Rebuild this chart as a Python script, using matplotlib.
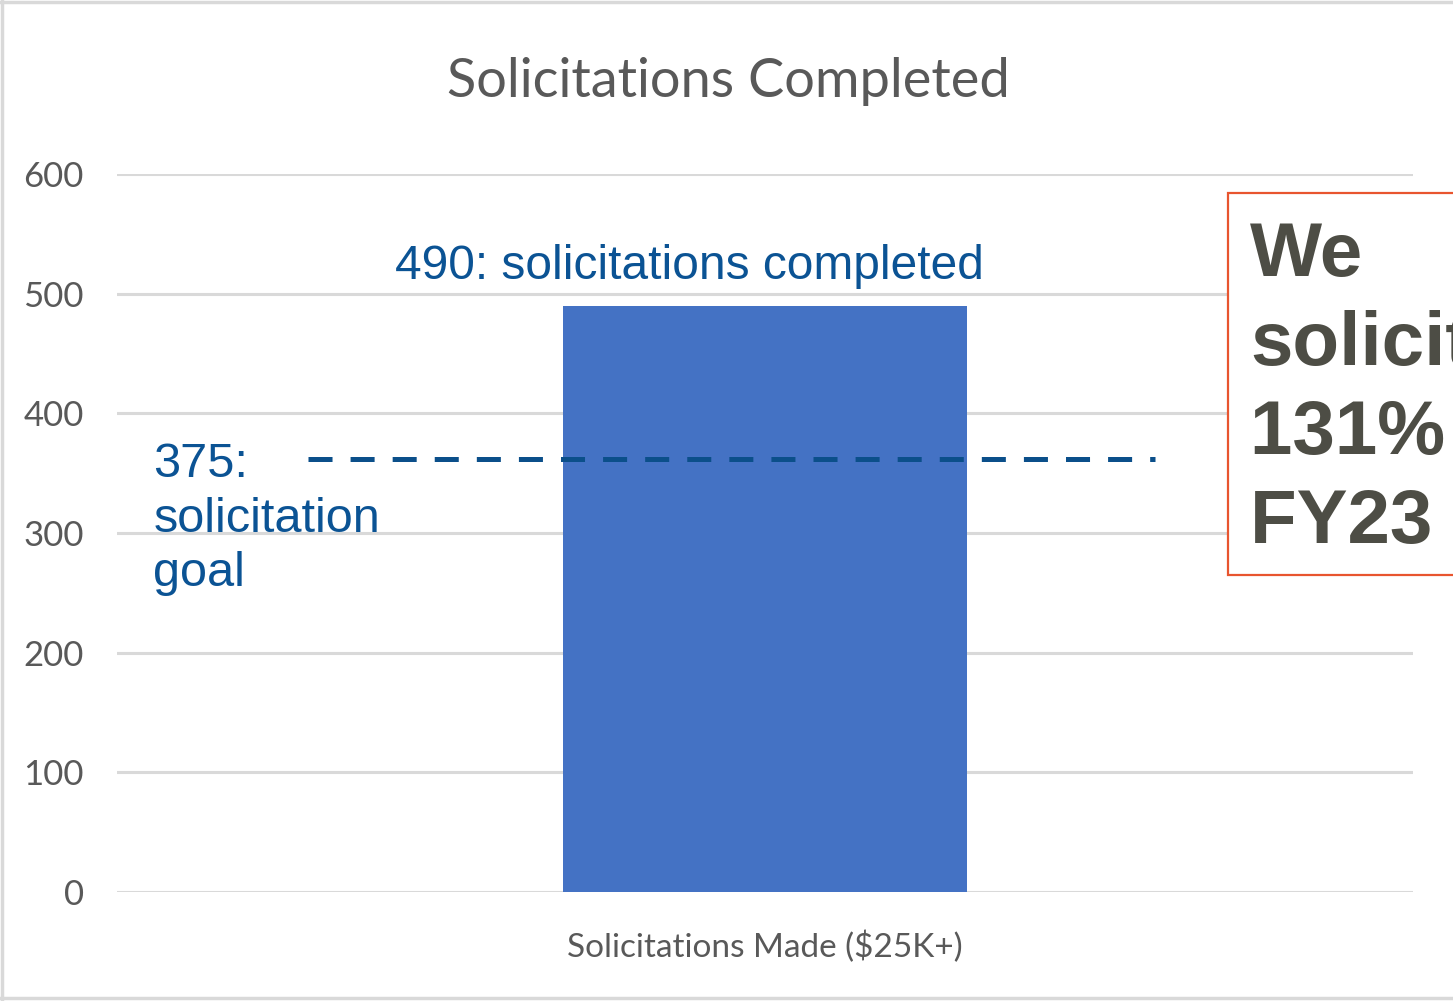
import matplotlib.pyplot as plt
from matplotlib.patches import Rectangle
from matplotlib.lines import Line2D

# ===== data =====
categories = ["Solicitations Made ($25K+)"]
completed = [490]
goal_value = 375
goal_line_y = 362          # where the dashed goal line is drawn in the picture
goal_span = (-0.353, 0.301)
y_ticks = [0, 100, 200, 300, 400, 500, 600]
box_lines = ["We", "solicited", "131% of our", "FY23 goal"]

narrow = ["Lato", "DejaVu Sans"]
arial = ["Liberation Sans", "DejaVu Sans"]
blue_txt = "#0B5394"
gray_txt = "#595959"

fig = plt.figure(figsize=(14.53, 10.01), dpi=100)
ax = fig.add_axes([117/1453, 109/1001, 1296/1453, 718/1001])

# ===== bar + grid =====
ax.bar(range(len(categories)), completed, width=0.312, color="#4472C4", zorder=2)
ax.set_xlim(-0.5, 0.5)
ax.set_ylim(0, 600)
ax.set_yticks(y_ticks)
ax.yaxis.grid(True, color="#D9D9D9", linewidth=2.2, zorder=0)
ax.set_axisbelow(True)
for s in ax.spines.values():
    s.set_visible(False)
ax.tick_params(length=0)
ax.tick_params(axis="y", pad=24)
ax.set_xticks(range(len(categories)))
ax.set_xticklabels(categories, fontsize=24, family=narrow, color=gray_txt)
ax.tick_params(axis="x", pad=28)
for lab in ax.get_yticklabels():
    lab.set_family(narrow)
    lab.set_fontsize(25)
    lab.set_color(gray_txt)

# ===== goal line =====
plt.rcParams["lines.scale_dashes"] = False
gl = Line2D(list(goal_span), [goal_line_y, goal_line_y], color="#0B4F8A",
            linewidth=3.6, solid_capstyle="butt", dash_capstyle="butt", zorder=3)
gl.set_dashes((17.3, 13.0))
ax.add_line(gl)

# ===== annotations =====
ax.text(-0.058, completed[0] + 14, f"{completed[0]}: solicitations completed",
        ha="center", va="bottom", fontsize=34.5, family=arial, color=blue_txt)
ax.text(-0.472, 376, f"{goal_value}:\nsolicitation\ngoal", ha="left", va="top",
        fontsize=35, family=arial, color=blue_txt, linespacing=1.27)

fig.text(0.5 + 2/1453, 1 - 82/1001, "Solicitations Completed", ha="center", va="center",
         fontsize=39, family=narrow, color=gray_txt)

# ===== callout box (runs off the right edge) =====
fig.patches.append(Rectangle((1228/1453, 1 - 575/1001), 300/1453, 382/1001,
                             transform=fig.transFigure, facecolor="white",
                             edgecolor="#E8552F", linewidth=1.6, zorder=5))
fig.text(1250/1453, 1 - 221/1001, "\n".join(box_lines), ha="left", va="top",
         fontsize=55, fontweight="bold", family=arial, color="#4D4D45",
         linespacing=1.33, zorder=6)

# ===== outer frame =====
for xs, ys in [([2/1453, 2/1453], [0, 1]), ([0, 1], [1 - 2/1001, 1 - 2/1001]),
               ([0, 1], [3/1001, 3/1001])]:
    fig.add_artist(Line2D(xs, ys, color="#D9D9D9", linewidth=2.5,
                          transform=fig.transFigure, zorder=1))

fig.savefig("out.png", dpi=100)
